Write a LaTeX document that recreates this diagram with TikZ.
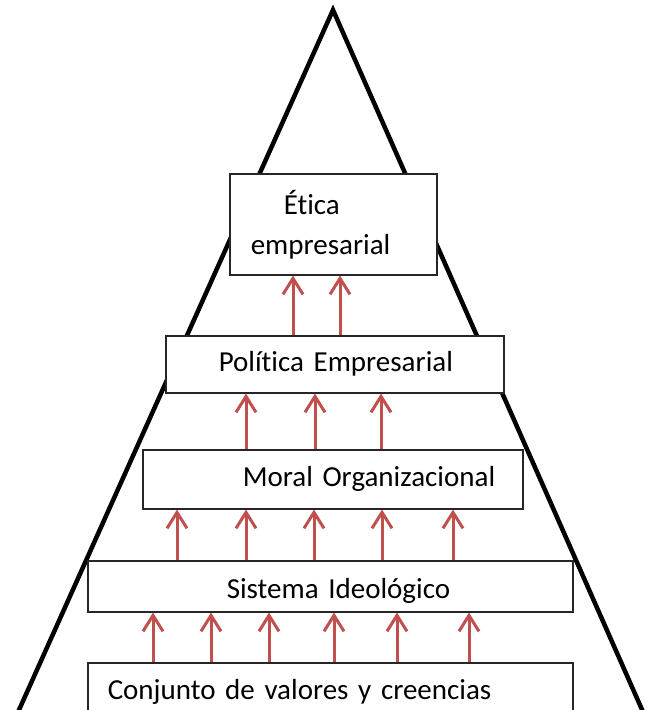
\documentclass[tikz,border=0pt]{standalone}
\usepackage{fontspec}
\setmainfont{Carlito}[Ligatures={CommonOff}]
\usetikzlibrary{arrows.meta}

\definecolor{arrowred}{RGB}{192,80,77}

\tikzset{
    level/.style={draw=black!85, line width=1.5pt, fill=white, inner xsep=0pt,
        align=left, anchor=north west, font=\fontsize{29}{40}\selectfont},
    up/.style={arrowred, line width=3pt, -{Straight Barb[length=16pt,width=20pt,line width=3pt]}},
    pyramid/.style={black, line width=4.5pt}
}

\begin{document}
\begin{tikzpicture}[x=1pt,y=-1pt]
        \useasboundingbox (0,0) rectangle (646,710);

        % Pyramid outline
        \coordinate (top) at (333,10);
        \coordinate (bl) at (10,730);
        \coordinate (br) at (651,730);
        \draw[pyramid] (bl) -- (top) -- (br);

        % Levels
        \node[level, text width=207pt, minimum height=101pt] (etica) at (229,173)
            {\hspace*{54pt}Ética\\\hspace*{21pt}empresarial};
        \node[level, text width=338pt, minimum height=57pt] (politica) at (165,335)
            {\hspace*{53pt}Política Empresarial};
        \node[level, text width=380pt, minimum height=59pt] (moral) at (142,449)
            {\hspace*{100pt}Moral Organizacional};
        \node[level, text width=485pt, minimum height=51pt, text height=24pt, text depth=0pt] (sistema) at (87,560)
            {\hspace*{139pt}Sistema Ideológico};
        \node[level, text width=485pt, minimum height=58pt] (conjunto) at (87,662)
            {\hspace*{20pt}Conjunto de valores y creencias};

        % Arrows between levels
        \foreach \x in {293,340}
            \draw[up] (politica.north -| \x,0) -- (etica.south -| \x,0);
        \foreach \x in {246,315,381}
            \draw[up] (moral.north -| \x,0) -- (politica.south -| \x,0);
        \foreach \x in {177,246,314,382,453}
            \draw[up] (sistema.north -| \x,0) -- (moral.south -| \x,0);
        \foreach \x in {153,211,269,334,397,469}
            \draw[up] (conjunto.north -| \x,0) -- (sistema.south -| \x,0);

    \end{tikzpicture}
\end{document}
